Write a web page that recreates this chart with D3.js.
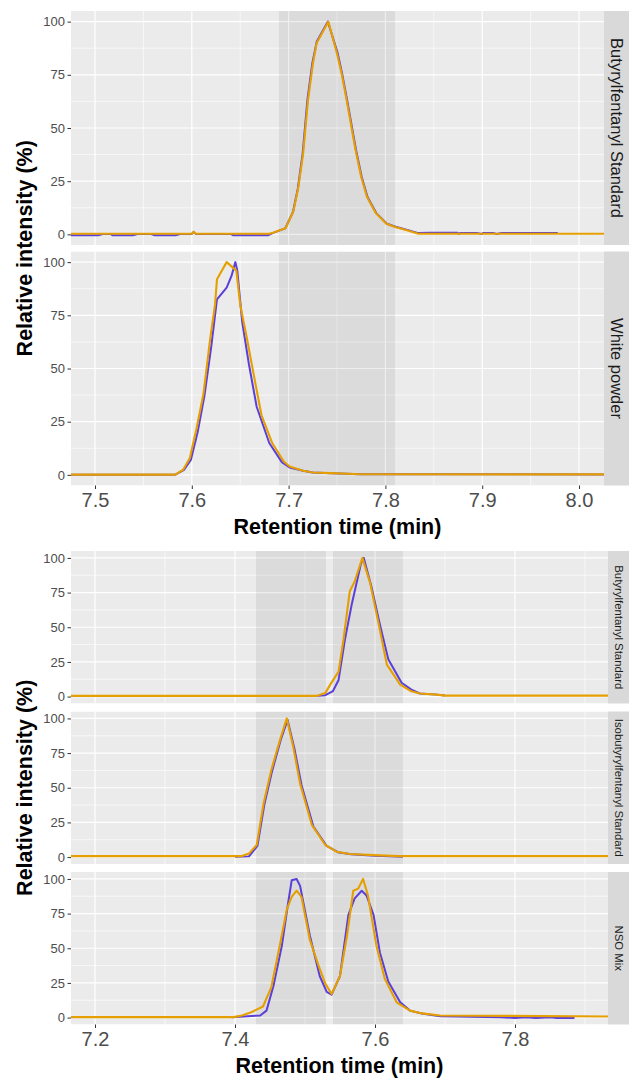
<!DOCTYPE html>
<html>
<head>
<meta charset="utf-8">
<script src="https://cdn.jsdelivr.net/npm/d3@7"></script>
<style>
  body { margin: 0; background: #fff; }
  svg { display: block; font-family: "Liberation Sans", Arial, sans-serif; }
</style>
</head>
<body>
<div id="my_dataviz"></div>
<script>
// tick labels and facet names
const yTicks = [0, 25, 50, 75, 100]
const topXTicks = [7.5, 7.6, 7.7, 7.8, 7.9, 8.0]
const bottomXTicks = [7.2, 7.4, 7.6, 7.8]
const topPanels = ["Butyrylfentanyl Standard", "White powder"]
const bottomPanels = ["Butyrylfentanyl Standard", "Isobutyrylfentanyl Standard", "NSO Mix"]

// retention windows (shaded)
const topWindows = [[7.69, 7.81]]
const bottomWindows = [[7.43, 7.53], [7.54, 7.64]]

// traces: [time (min), relative intensity (%)]
const butStdBlue = [[7.46,-0.4],[7.503,-0.4],[7.508,0.2],[7.516,0.2],[7.518,-0.4],[7.539,-0.4],[7.544,0.2],[7.558,0.2],[7.562,-0.4],[7.583,-0.4],[7.588,0.2],[7.600,0.2],[7.602,1.2],[7.604,0.2],[7.640,0.2],[7.643,-0.4],[7.679,-0.4],[7.684,0.7],[7.6965,2.8],[7.7045,10.5],[7.7095,21.5],[7.7145,38],[7.7195,63.5],[7.7245,80.5],[7.729,90.5],[7.7405,100],[7.7505,85.5],[7.7555,75],[7.7605,63],[7.7695,40],[7.7755,27],[7.7815,17.6],[7.7905,10],[7.8015,5],[7.8105,3.6],[7.8225,2.1],[7.834,0.6],[7.846,0.8],[7.874,0.8],[7.876,0.2],[7.877,0.7],[7.894,0.7],[7.900,0.2],[7.901,0.7],[7.911,0.7],[7.915,0.2],[7.920,0.7],[7.978,0.7]]
const butStdOrange = [[7.45,0.3],[7.600,0.3],[7.602,1.2],[7.604,0.3],[7.680,0.3],[7.684,0.8],[7.697,3],[7.705,11],[7.710,22],[7.715,38],[7.720,63],[7.725,80],[7.729,90],[7.741,100],[7.750,85],[7.755,75],[7.760,63],[7.769,40],[7.775,27],[7.781,17.6],[7.790,10],[7.801,5],[7.810,3.5],[7.822,1.9],[7.834,0.3],[8.05,0.3]]

const powderBlue = [[7.45,0.1],[7.583,0.1],[7.592,2.4],[7.599,7],[7.606,20],[7.613,37],[7.620,60],[7.626,82.5],[7.636,88],[7.641,93.5],[7.645,100],[7.647,96],[7.652,72],[7.659,52],[7.667,32],[7.680,15],[7.693,6],[7.701,3.5],[7.715,1.9],[7.725,1.1],[7.744,0.8],[7.774,0.3],[8.05,0.2]]
const powderOrange = [[7.45,0.1],[7.583,0.1],[7.591,2.4],[7.598,7.9],[7.605,22],[7.612,38],[7.619,64],[7.624,80],[7.626,92],[7.636,100],[7.646,96],[7.650,80],[7.657,64],[7.664,47],[7.672,28],[7.683,15],[7.695,6.3],[7.701,3.9],[7.715,1.9],[7.725,1.1],[7.744,0.8],[7.774,0.3],[8.05,0.2]]

const butMixBlue = [[7.40,0.5],[7.517,0.5],[7.529,1],[7.540,4],[7.548,12],[7.557,41],[7.567,67],[7.580,96],[7.584,100],[7.595,79],[7.607,52],[7.619,27],[7.638,10],[7.652,5],[7.664,2.2],[7.688,1.4],[7.70,0.7]]
const butMixOrange = [[7.15,0.5],[7.517,0.5],[7.529,2.5],[7.536,8.6],[7.548,18],[7.555,41],[7.564,76],[7.571,83],[7.582,100],[7.593,82],[7.605,53],[7.617,23],[7.636,8.6],[7.652,3.8],[7.664,2.2],[7.688,1.4],[7.70,0.7],[7.95,0.7]]

const isoBlue = [[7.40,0.2],[7.420,0.5],[7.432,8],[7.442,38],[7.453,62],[7.465,84],[7.475,99],[7.485,78],[7.495,52],[7.512,22],[7.531,8],[7.547,3.5],[7.566,2],[7.600,1],[7.64,0.3]]
const isoOrange = [[7.15,0.7],[7.410,0.7],[7.420,2.5],[7.431,8.7],[7.441,39],[7.452,63],[7.464,84],[7.474,100],[7.483,80],[7.493,53],[7.510,23],[7.529,8.7],[7.545,3.9],[7.564,2.2],[7.598,1.4],[7.633,0.7],[7.95,0.7]]

const nsoBlue = [[7.395,0.3],[7.436,1.5],[7.445,5],[7.455,23],[7.467,52],[7.476,83],[7.481,99],[7.488,100],[7.493,95],[7.507,59],[7.521,30],[7.531,18.5],[7.538,16.5],[7.55,30],[7.562,74],[7.571,86],[7.581,91.5],[7.588,88],[7.598,74],[7.607,47],[7.619,26],[7.636,11],[7.65,5],[7.667,3],[7.693,1],[7.78,0.3],[7.80,-0.3],[7.815,0.3],[7.83,-0.3],[7.85,0.3],[7.86,-0.3],[7.885,-0.3]]
const nsoOrange = [[7.15,0.3],[7.398,0.3],[7.410,1.5],[7.424,4],[7.44,8],[7.452,22],[7.464,52],[7.474,78],[7.481,87],[7.488,91.5],[7.495,87],[7.507,56],[7.519,38],[7.529,24.5],[7.538,17],[7.55,30],[7.560,59],[7.569,91.5],[7.576,93],[7.583,100],[7.590,88],[7.602,52],[7.614,28],[7.631,11],[7.65,5],[7.667,3],[7.693,1.5],[7.95,0.7]]

const blueCol = "#5a3fd8"
const orangeCol = "#e69f00"

const width = 629
const height = 1078

var svg = d3.select("#my_dataviz")
  .append("svg")
    .attr("width", width)
    .attr("height", height)

var defs = svg.append("defs")

// one faceted figure (stacked panels, shared x axis)
function drawFigure(fig) {
  var x = d3.scaleLinear().domain(fig.xDomain).range([fig.left, fig.right])
  var minorX = d3.range(fig.xTicks.length + 1).map(function(i) {
    return fig.xTicks[0] + (i - 0.5) * fig.xStep
  })
  var minorY = [-12.5, 12.5, 37.5, 62.5, 87.5]
  var line = d3.line()
    .x(function(d) { return x(d[0]) })

  fig.panels.forEach(function(name, i) {
    var top = fig.top + i * (fig.panelH + fig.gap)
    var y = d3.scaleLinear().domain([-5, 105]).range([top + fig.panelH, top])
    line.y(function(d) { return y(d[1]) })

    var id = fig.id + "clip" + i
    defs.append("clipPath").attr("id", id)
      .append("rect")
        .attr("x", fig.left).attr("y", top)
        .attr("width", fig.right - fig.left).attr("height", fig.panelH)

    var g = svg.append("g")
    var pg = g.append("g").attr("clip-path", "url(#" + id + ")")

    // panel background
    pg.append("rect")
      .attr("x", fig.left).attr("y", top)
      .attr("width", fig.right - fig.left).attr("height", fig.panelH)
      .attr("fill", "#ebebeb")

    // minor grid
    pg.selectAll(".mx").data(minorX).enter().append("line")
      .attr("x1", d => x(d)).attr("x2", d => x(d))
      .attr("y1", top).attr("y2", top + fig.panelH)
      .attr("stroke", "#fff").attr("stroke-width", 0.6)
    pg.selectAll(".my").data(minorY).enter().append("line")
      .attr("y1", d => y(d)).attr("y2", d => y(d))
      .attr("x1", fig.left).attr("x2", fig.right)
      .attr("stroke", "#fff").attr("stroke-width", 0.6)
    // major grid
    pg.selectAll(".gx").data(fig.xTicks).enter().append("line")
      .attr("x1", d => x(d)).attr("x2", d => x(d))
      .attr("y1", top).attr("y2", top + fig.panelH)
      .attr("stroke", "#fff").attr("stroke-width", 1.2)
    pg.selectAll(".gy").data(yTicks).enter().append("line")
      .attr("y1", d => y(d)).attr("y2", d => y(d))
      .attr("x1", fig.left).attr("x2", fig.right)
      .attr("stroke", "#fff").attr("stroke-width", 1.2)

    // shaded retention windows
    pg.selectAll(".win").data(fig.windows).enter().append("rect")
      .attr("x", d => x(d[0])).attr("width", d => x(d[1]) - x(d[0]))
      .attr("y", top).attr("height", fig.panelH)
      .attr("fill", "#000").attr("fill-opacity", 0.065)

    // the two traces
    pg.append("path").datum(fig.traces[i][0])
      .attr("fill", "none").attr("stroke", blueCol)
      .attr("stroke-width", 2).attr("stroke-linejoin", "round")
      .attr("d", line)
    pg.append("path").datum(fig.traces[i][1])
      .attr("fill", "none").attr("stroke", orangeCol)
      .attr("stroke-width", 2.1).attr("stroke-linejoin", "round")
      .attr("d", line)

    // facet strip
    g.append("rect")
      .attr("x", fig.right).attr("y", top)
      .attr("width", fig.stripW).attr("height", fig.panelH)
      .attr("fill", "#d9d9d9")
    var sx = fig.right + fig.stripW / 2, sy = top + fig.panelH / 2
    g.append("text")
      .attr("transform", "translate(" + sx + "," + sy + ") rotate(90)")
      .attr("text-anchor", "middle")
      .attr("dominant-baseline", "central")
      .attr("fill", "#1a1a1a")
      .style("font-size", fig.stripFont + "px")
      .text(name)

    // Add Y axis
    var ya = g.append("g")
      .attr("transform", "translate(" + fig.left + ",0)")
      .call(d3.axisLeft(y).tickValues(yTicks).tickSize(3.5).tickPadding(2.5))
    ya.select(".domain").remove()
    ya.selectAll("line").attr("stroke", "#333").attr("stroke-width", 1)
    ya.selectAll("text").attr("fill", "#4d4d4d").style("font-size", "13px")
      .attr("font-family", "Liberation Sans, Arial, sans-serif")

    // Add X axis on the bottom panel only
    if (i == fig.panels.length - 1) {
      var xa = g.append("g")
        .attr("transform", "translate(0," + (top + fig.panelH) + ")")
        .call(d3.axisBottom(x).tickValues(fig.xTicks).tickSize(3.5).tickPadding(4)
          .tickFormat(d3.format(".1f")))
      xa.select(".domain").remove()
      xa.selectAll("line").attr("stroke", "#333").attr("stroke-width", 1)
      xa.selectAll("text").attr("fill", "#4d4d4d").style("font-size", "20px")
        .attr("font-family", "Liberation Sans, Arial, sans-serif")
    }
  })

  var bottom = fig.top + fig.panels.length * fig.panelH + (fig.panels.length - 1) * fig.gap

  svg.append("text")
    .attr("x", (fig.left + fig.right) / 2)
    .attr("y", bottom + fig.titleOffset)
    .attr("text-anchor", "middle")
    .style("font-size", "21.5px").style("font-weight", "bold")
    .text("Retention time (min)")

  svg.append("text")
    .attr("transform", "translate(32," + ((fig.top + bottom) / 2) + ") rotate(-90)")
    .attr("text-anchor", "middle")
    .style("font-size", "21.5px").style("font-weight", "bold")
    .text("Relative intensity (%)")
}

drawFigure({
  id: "top",
  panels: topPanels,
  traces: [[butStdBlue, butStdOrange], [powderBlue, powderOrange]],
  windows: topWindows,
  xTicks: topXTicks, xStep: 0.1,
  xDomain: [7.4752, 8.0258],
  left: 71, right: 604, stripW: 25, stripFont: 16.5,
  top: 11, panelH: 234, gap: 6.5,
  titleOffset: 48
})

drawFigure({
  id: "bot",
  panels: bottomPanels,
  traces: [[butMixBlue, butMixOrange], [isoBlue, isoOrange], [nsoBlue, nsoOrange]],
  windows: bottomWindows,
  xTicks: bottomXTicks, xStep: 0.2,
  xDomain: [7.1657, 7.9329],
  left: 71, right: 608, stripW: 21, stripFont: 11.4,
  top: 551, panelH: 152.5, gap: 8,
  titleOffset: 48
})
</script>
</body>
</html>
